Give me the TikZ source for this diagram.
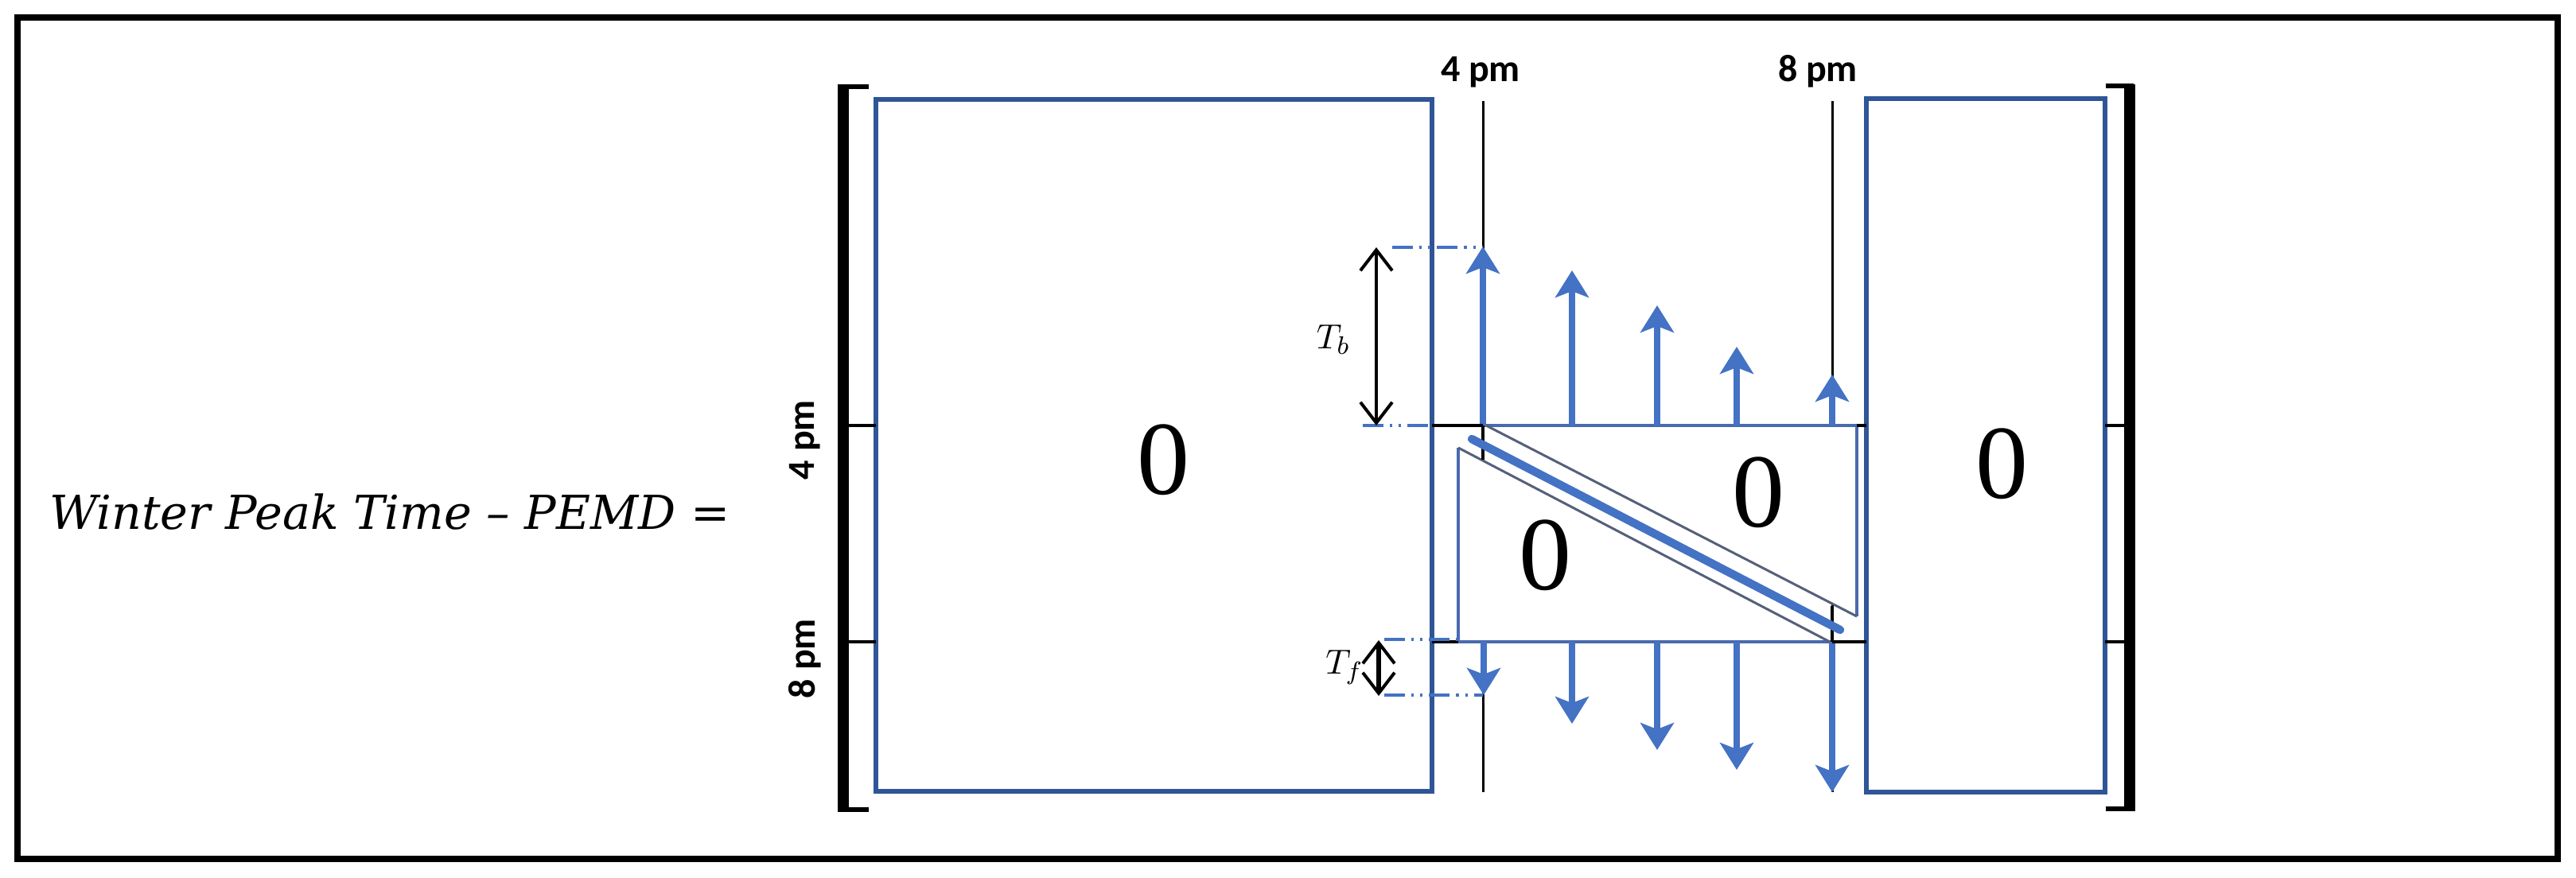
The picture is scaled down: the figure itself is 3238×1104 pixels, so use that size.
\documentclass[tikz,border=0pt]{standalone}
\usepackage{fontspec}
\usetikzlibrary{arrows.meta}
\newfontfamily\calib{Carlito}
\newfontfamily\eqfont{DejaVu Serif}
\newfontfamily\zerofont{Liberation Serif}
\definecolor{boxblue}{HTML}{2F5597}
\definecolor{arrblue}{HTML}{4472C4}
\definecolor{thinblue}{HTML}{4A6AB0}
\definecolor{diaggray}{HTML}{56607A}
\begin{document}
\begin{tikzpicture}[x=0.25pt,y=-0.25pt,
  bluearrow/.style={arrblue, line width=2.1pt, -{Stealth[length=8.5pt,width=10.5pt,inset=2pt]}},
  dimarrow/.style={black, line width=0.8pt, {Straight Barb[length=6.5pt,width=10pt,line width=1pt]}-{Straight Barb[length=6.5pt,width=10pt,line width=1pt]}},
  dashblue/.style={arrblue, line width=0.8pt, dash pattern=on 6.5pt off 2pt on 0.8pt off 2pt on 0.8pt off 2pt},
  bigbox/.style={boxblue, line width=1.6pt},
  bracketline/.style={black, line width=3.3pt},
  bracketend/.style={black, line width=1.4pt},
  tick/.style={black, line width=0.8pt},
  timeline/.style={black, line width=0.75pt},
  thinedge/.style={thinblue, line width=0.8pt},
  diagedge/.style={diaggray, line width=0.75pt},
  zero/.style={font=\zerofont\fontsize{33}{36}\selectfont, inner sep=0pt},
  hourlabel/.style={font=\calib\bfseries\fontsize{12}{14}\selectfont, inner sep=0pt},
  tlabel/.style={font=\fontsize{11}{12}\selectfont, inner sep=0pt}
]
\useasboundingbox (0,0) rectangle (3238,1104);
\fill[white] (0,0) rectangle (3238,1104);
% outer frame
\draw[line width=1.9pt] (22,22) rectangle (3215,1080);

% equation text
\node[font=\eqfont\itshape\fontsize{14.7}{16}\selectfont, anchor=base, inner sep=0pt] (eq) at (490,665) {Winter Peak Time – PEMD =};

% time lines (4 pm, 8 pm)
\coordinate (l4top) at (1864,127);
\coordinate (l4bot) at (1864,996);
\coordinate (l8top) at (2303,127);
\coordinate (l8bot) at (2303,996);
\draw[timeline] (l4top) -- (l4bot);
\draw[timeline] (l8top) -- (l8bot);

% triangles
\coordinate (ua) at (1868,535);
\coordinate (ub) at (2334,535);
\coordinate (uc) at (2334,775);
\coordinate (la) at (1833,563);
\coordinate (lb) at (1833,807);
\coordinate (lc) at (2300,807);
\fill[white] (ua) -- (ub) -- (uc) -- cycle;
\fill[white] (la) -- (lb) -- (lc) -- cycle;
\draw[thinedge] (1864,535) -- (ub) -- (uc);
\draw[diagedge] (ua) -- (uc);
\draw[thinedge] (la) -- (lb) -- (lc);
\draw[diagedge] (la) -- (lc);
\draw[thinedge] (lc) -- (2303,807);
% short black marks
\draw[tick] (1864,535) -- (1864,578);
\draw[tick] (2303,762) -- (2303,807);
% thick diagonal
\coordinate (d1) at (1850,552);
\coordinate (d2) at (2313,792);
\draw[arrblue, line width=2.6pt, line cap=round] (d1) -- (d2);

% up arrows
\foreach \x/\t [count=\i] in {1864/310,1976/340,2083/384,2183/436,2303/471}{
  \coordinate (ub\i) at (\x,535);
  \coordinate (ut\i) at (\x,\t);
  \draw[bluearrow] (ub\i) -- (ut\i);
}
% down arrows
\foreach \x/\t [count=\i] in {1865/874,1976/910,2083/943,2183/968,2303/996}{
  \coordinate (db\i) at (\x,807);
  \coordinate (dt\i) at (\x,\t);
  \draw[bluearrow] (db\i) -- (dt\i);
}

% big boxes
\draw[bigbox] (1101,125) rectangle (1800,995);
\draw[bigbox] (2346,124) rectangle (2646,996);

% brackets
\draw[bracketline] (1060,106) -- (1060,1021);
\draw[bracketend] (1055,109) -- (1092,109);
\draw[bracketend] (1055,1018) -- (1092,1018);
\draw[bracketline] (2677,106) -- (2677,1020);
\draw[bracketend] (2682,108) -- (2647,108);
\draw[bracketend] (2682,1017) -- (2647,1017);

% ticks
\foreach \y in {535,807}{
  \draw[tick] (1062,\y) -- (1101,\y);
  \draw[tick] (2646,\y) -- (2675,\y);
}
\draw[tick] (1800,535) -- (1864,535);
\draw[tick] (2334,535) -- (2346,535);
\draw[tick] (1800,807) -- (1833,807);
\draw[tick] (2303,807) -- (2346,807);

% dimension dashes
\draw[dashblue] (1750,311) -- (1864,311);
\draw[dashblue] (1713,535) -- (1800,535);
\draw[dashblue] (1740,804) -- (1833,804);
\draw[dashblue] (1740,874) -- (1864,874);

% dimension arrows
\coordinate (tbt) at (1730,311);
\coordinate (tbb) at (1730,535);
\coordinate (tft) at (1733,805);
\coordinate (tfb) at (1733,875);
\draw[dimarrow] (tbt) -- (tbb);
\draw[dimarrow, line width=1.3pt] (tft) -- (tfb);
\node[tlabel] (tb) at (1676,427) {$T_b$};
\node[tlabel] (tf) at (1690,839) {$T_f$};

% zeros
\node[zero] (z1) at (1462,578) {0};
\node[zero] (z2) at (2210,619) {0};
\node[zero] (z3) at (1942,698) {0};
\node[zero] (z4) at (2516,583) {0};

% hour labels
\node[hourlabel, anchor=base] (h4) at (1861,102) {4 pm};
\node[hourlabel, anchor=base] (h8) at (2285,102) {8 pm};
\node[hourlabel, rotate=90] (v4) at (1012,553) {4 pm};
\node[hourlabel, rotate=90] (v8) at (1012,828) {8 pm};
\end{tikzpicture}
\end{document}
